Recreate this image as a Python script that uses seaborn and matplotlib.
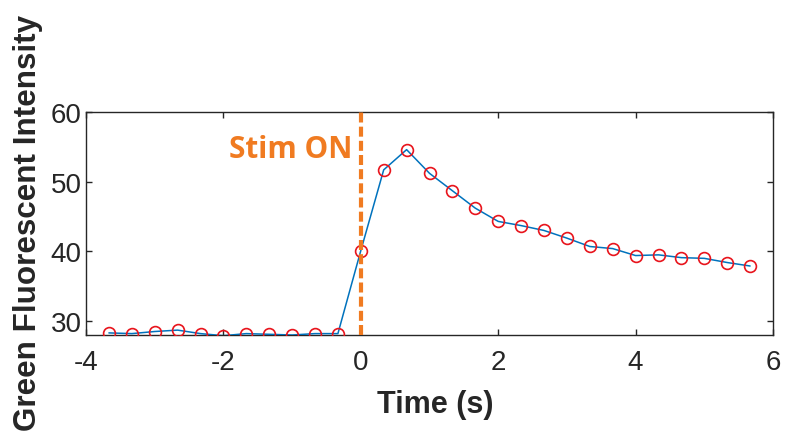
import matplotlib
matplotlib.use('Agg')
import matplotlib.pyplot as plt
import numpy as np
import pandas as pd
import seaborn as sns

# time points (s), 1/3 s frame interval
time_s = [-11/3, -10/3, -3, -8/3, -7/3, -2, -5/3, -4/3, -1, -2/3, -1/3,
          0, 1/3, 2/3, 1, 4/3, 5/3, 2, 7/3, 8/3, 3, 10/3, 11/3, 4,
          13/3, 14/3, 5, 16/3, 17/3]
intensity = [28.3, 28.2, 28.5, 28.7, 28.2, 27.9, 28.2, 28.1, 28.0, 28.2, 28.2,
             40.1, 51.7, 54.6, 51.2, 48.7, 46.2, 44.3, 43.7, 43.0, 41.9, 40.7,
             40.4, 39.4, 39.5, 39.1, 39.0, 38.4, 37.9]
stim_time = 0.0
stim_label = 'Stim ON'
x_ticks = [-4, -2, 0, 2, 4, 6]
y_ticks = [30, 40, 50, 60]

df = pd.DataFrame({'t': time_s, 'g': intensity})

sns.set_style('ticks')
plt.rcParams['font.family'] = ['Liberation Sans', 'DejaVu Sans']
txt = '#262626'
orange = '#F07B21'

fig = plt.figure(figsize=(7.85, 4.35), dpi=100)
ax = fig.add_axes([86/785, 1 - 336/435, (773 - 86)/785, (336 - 113)/435])

sns.lineplot(data=df, x='t', y='g', ax=ax, color='#0072BD', linewidth=1.1,
             marker='o', markersize=8.5, markerfacecolor='none',
             markeredgecolor='#E8141C', markeredgewidth=1.2, zorder=3)
ax.axvline(stim_time, color=orange, linewidth=3, linestyle=(0, (2.4, 1.0)), zorder=4)
ax.text(-0.12, 53.6, stim_label, color=orange, fontsize=21.5, fontweight='bold',
        family=['Open Sans', 'DejaVu Sans'], ha='right', va='baseline')

ax.set_xlim(-4, 6)
ax.set_ylim(28, 60)
ax.set_xticks(x_ticks)
ax.set_yticks(y_ticks)
ax.set_xticklabels([str(v) for v in x_ticks])
ax.tick_params(direction='in', length=4, width=1, color=txt, labelcolor=txt,
               labelsize=20, top=True, right=True)
ax.tick_params(axis='x', pad=10)
ax.tick_params(axis='y', pad=3)
for s in ax.spines.values():
    s.set_color(txt)
    s.set_linewidth(1)
ax.set_xlabel('')
ax.set_ylabel('')

fig.text(435/785, 1 - 413/435, 'Time (s)', fontsize=22, fontweight='bold',
         color=txt, ha='center', va='baseline')
fig.text(28/785, 1 - 223/435, 'Green Fluorescent Intensity', fontsize=22.6,
         fontweight='bold', color=txt, ha='center', va='center', rotation=90)

fig.savefig('out.png', dpi=100)
